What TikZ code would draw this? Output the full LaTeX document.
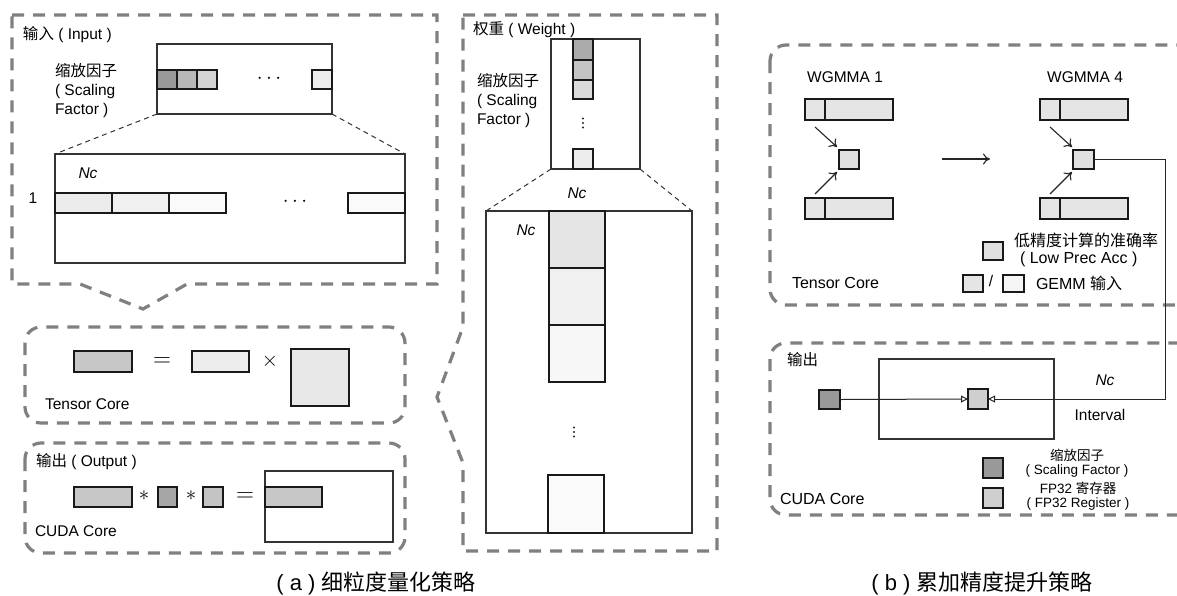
\documentclass[tikz,border=0pt]{standalone}
\usepackage{fontspec}
\setmainfont{Liberation Sans}
\newfontfamily\cjk{Noto Sans CJK SC}
\usetikzlibrary{arrows.meta}
\newcommand\zh[1]{{\cjk #1}}
\newcommand\bx[6]{\node[#2, minimum width=#5pt-#3pt, minimum height=#6pt-#4pt] (#1) at ({(#3+#5)/2},{(#4+#6)/2}) {};}
\definecolor{dgray}{HTML}{808080}
\definecolor{lineblk}{HTML}{333333}
\begin{document}
\begin{tikzpicture}[x=1pt,y=-1pt,
  dbox/.style={draw=dgray, line width=3.2pt, dash pattern=on 12pt off 9pt},
  zoomline/.style={draw=black!80, line width=1pt, dash pattern=on 5pt off 4pt},
  framebox/.style={draw=lineblk, line width=1.1pt, inner sep=0pt, outer sep=0pt},
  cellbox/.style={draw=black!90, line width=1.7pt, inner sep=0pt, outer sep=0pt},
  txt/.style={inner sep=0pt, outer sep=0pt, font=\fontsize{15.5}{19}\selectfont},
  smalltxt/.style={inner sep=0pt, outer sep=0pt, align=center, font=\fontsize{13.5}{14.5}\selectfont},
  symtxt/.style={inner sep=0pt, outer sep=0pt, font=\fontsize{21}{21}\selectfont},
  eqtxt/.style={inner sep=0pt, outer sep=0pt, font=\fontsize{27}{27}\selectfont},
  captxt/.style={inner sep=0pt, outer sep=0pt, font=\fontsize{22}{24}\selectfont},
  arr/.style={draw=black!85, line width=1.1pt, -{To[length=7pt,width=11pt]}},
  tri/.style={draw=black!85, line width=1pt, -{Triangle[open,length=7pt,width=7pt]}}]
\fill[white] (0,0) rectangle (1177,595);
\useasboundingbox (0,0) rectangle (1177,595);
\clip (0,0) rectangle (1177,595);

% ================= (a) Input =================
\draw[dbox] (12,15) -- (437,15) -- (437,284) -- (187,284) -- (143,309) -- (80,284) -- (12,284) -- cycle;
\node[txt, anchor=west] (inhead) at (23,35) {\zh{输入} ( Input )};
\node[txt, anchor=north west, align=left] (inlab) at (55,63) {\zh{缩放因子}\\( Scaling\\Factor )};
\bx{insf}{framebox}{157}{44}{332}{114}
\bx{isc1}{cellbox, fill=black!40}{157}{70}{177}{89}
\bx{isc2}{cellbox, fill=black!28}{177}{70}{197}{89}
\bx{isc3}{cellbox, fill=black!17}{197}{70}{217}{89}
\bx{isc4}{cellbox, fill=black!7}{312}{70}{332}{89}
\node[symtxt] (idots) at (269,79) {$\cdots$};
\bx{inbig}{framebox}{55}{154}{405}{263}
\draw[zoomline] (insf.south west) -- (inbig.north west);
\draw[zoomline] (insf.south east) -- (inbig.north east);
\node[txt] (inNc) at (88,173) {\textit{Nc}};
\node[txt] (inone) at (33,198) {1};
\bx{ir1}{cellbox, fill=black!8}{55}{193}{112}{213}
\bx{ir2}{cellbox, fill=black!6}{112}{193}{169}{213}
\bx{ir3}{cellbox, fill=black!2}{169}{193}{226}{213}
\bx{ir4}{cellbox, fill=black!2}{348}{193}{405}{213}
\node[symtxt] (irdots) at (295,202) {$\cdots$};

% ================= (a) Tensor Core =================
\draw[dbox, rounded corners=16pt] (25,327) rectangle (405,423);
\bx{tc1}{cellbox, fill=black!22}{74}{351}{132}{372}
\node[eqtxt] (tceq) at (162,362) {$=$};
\bx{tc2}{cellbox, fill=black!7}{192}{351}{249}{372}
\node[symtxt] (tcx) at (270,361) {$\times$};
\bx{tc3}{cellbox, fill=black!9}{291}{349}{349}{406}
\node[txt, anchor=west] (tclab) at (45,404) {Tensor Core};

% ================= (a) CUDA Core =================
\draw[dbox, rounded corners=16pt] (25,443) rectangle (405,553);
\node[txt, anchor=west] (outhead) at (36,462) {\zh{输出} ( Output )};
\bx{cr1}{cellbox, fill=black!22}{74}{487}{132}{507}
\node[symtxt] (ast1) at (144,496) {$\ast$};
\bx{cs1}{cellbox, fill=black!35}{158}{487}{177}{507}
\node[symtxt] (ast2) at (191,496) {$\ast$};
\bx{cs2}{cellbox, fill=black!23}{203}{487}{223}{507}
\node[eqtxt] (ceq) at (245,497) {$=$};
\bx{cbig}{framebox, fill=white}{265}{471}{393}{542}
\bx{cin}{cellbox, fill=black!22}{265}{487}{322}{507}
\node[txt, anchor=west] (cudalab) at (35,531) {CUDA Core};

\node[captxt] (capa) at (376,583) {( a ) \zh{细粒度量化策略}};

% ================= (a) Weight =================
\draw[dbox] (463,15) -- (717,15) -- (717,551) -- (463,551) -- (463,463) -- (437,397) -- (463,327) -- cycle;
\node[txt, anchor=west] (whead) at (473,30) {\zh{权重} ( Weight )};
\node[txt, anchor=north west, align=left] (wlab) at (477,73) {\zh{缩放因子}\\( Scaling\\Factor )};
\bx{wsf}{framebox}{551}{39}{640}{169}
\bx{wc1}{cellbox, fill=black!33}{573}{39}{593}{60}
\bx{wc2}{cellbox, fill=black!23}{573}{60}{593}{80}
\bx{wc3}{cellbox, fill=black!14}{573}{80}{593}{99}
\bx{wc4}{cellbox, fill=black!7}{573}{149}{593}{169}
\foreach \d in {-4.5,0,4.5} \fill[black!85] (583,123+\d) circle (1.2pt);
\bx{wbig}{framebox}{486}{211}{692}{533}
\draw[zoomline] (wsf.south west) -- (wbig.north west);
\draw[zoomline] (wsf.south east) -- (wbig.north east);
\node[txt] (wNc1) at (577,193) {\textit{Nc}};
\node[txt] (wNc2) at (526,230) {\textit{Nc}};
\bx{wr1}{cellbox, fill=black!10}{549}{211}{605}{268}
\bx{wr2}{cellbox, fill=black!6}{549}{268}{605}{325}
\bx{wr3}{cellbox, fill=black!3}{549}{325}{605}{382}
\bx{wr4}{cellbox, fill=black!2}{548}{475}{604}{533}
\foreach \d in {-4.5,0,4.5} \fill[black!85] (574,432+\d) circle (1.2pt);

% ================= (b) Tensor Core =================
\draw[dbox, rounded corners=16pt] (770,45) rectangle (1210,305);
\node[txt] (wg1) at (845,77) {WGMMA 1};
\node[txt] (wg4) at (1085,77) {WGMMA 4};
\bx{a1l}{cellbox, fill=black!10}{805}{99}{825}{120}
\bx{a1r}{cellbox, fill=black!10}{825}{99}{893}{120}
\bx{b1l}{cellbox, fill=black!10}{805}{198}{825}{219}
\bx{b1r}{cellbox, fill=black!10}{825}{198}{893}{219}
\bx{s1}{cellbox, fill=black!12}{839}{150}{859}{169}
\coordinate (p1a) at (815,127); \coordinate (p1b) at (837,147);
\coordinate (p1c) at (815,194); \coordinate (p1d) at (837,172);
\draw[arr] (p1a) -- (p1b);
\draw[arr] (p1c) -- (p1d);
\coordinate (mida) at (942,159); \coordinate (midb) at (990,159);
\draw[arr] (mida) -- (midb);
\bx{a4l}{cellbox, fill=black!10}{1040}{99}{1060}{120}
\bx{a4r}{cellbox, fill=black!10}{1060}{99}{1128}{120}
\bx{b4l}{cellbox, fill=black!10}{1040}{198}{1060}{219}
\bx{b4r}{cellbox, fill=black!10}{1060}{198}{1128}{219}
\bx{s4}{cellbox, fill=black!12}{1073}{150}{1094}{169}
\coordinate (p4a) at (1050,127); \coordinate (p4b) at (1072,147);
\coordinate (p4c) at (1050,194); \coordinate (p4d) at (1072,172);
\draw[arr] (p4a) -- (p4b);
\draw[arr] (p4c) -- (p4d);
\bx{lg1}{cellbox, fill=black!12}{983}{242}{1003}{260}
\node[txt, anchor=west, font=\fontsize{16}{19}\selectfont] (lg1t) at (1014,240) {\zh{低精度计算的准确率}};
\node[txt, anchor=west, font=\fontsize{16}{19}\selectfont] (lg1u) at (1020,259) {( Low Prec Acc )};
\bx{lg2}{cellbox, fill=black!10}{963}{275}{983}{292}
\node[txt] (slash) at (991,281) {/};
\bx{lg3}{cellbox, fill=black!4}{1003}{275}{1024}{292}
\node[txt, anchor=west, font=\fontsize{16}{19}\selectfont] (lg3t) at (1036,283) {GEMM \zh{输入}};
\node[txt, anchor=west, font=\fontsize{16}{19}\selectfont] (tcb) at (792,283) {Tensor Core};

% ================= (b) CUDA Core =================
\draw[dbox, rounded corners=16pt] (770,343) rectangle (1210,515);
\node[txt, anchor=west] (outb) at (787,360) {\zh{输出}};
\bx{rin}{framebox}{879}{359}{1054}{439}
\bx{rds}{cellbox, fill=black!40}{819}{390}{840}{409}
\bx{rfs}{cellbox, fill=black!19}{968}{389}{988}{409}
\draw[tri] (rds.east) -- (rfs.west);
\coordinate (turn) at (1165,399);
\draw[tri] (s4.east) -| (turn) -- (rfs.east);
\node[txt] (bNc) at (1105,380) {\textit{Nc}};
\node[txt] (intv) at (1100,415) {Interval};
\bx{lsd}{cellbox, fill=black!40}{983}{458}{1003}{478}
\bx{lfp}{cellbox, fill=black!19}{983}{488}{1003}{508}
\node[smalltxt] (lsdt) at (1077,463) {\zh{缩放因子}\\( Scaling Factor )};
\node[smalltxt] (lfpt) at (1078,496) {FP32 \zh{寄存器}\\( FP32 Register )};
\node[txt, anchor=west, font=\fontsize{16}{19}\selectfont] (cudab) at (780,499) {CUDA Core};

\node[captxt] (capb) at (982,583) {( b ) \zh{累加精度提升策略}};
\end{tikzpicture}
\end{document}
